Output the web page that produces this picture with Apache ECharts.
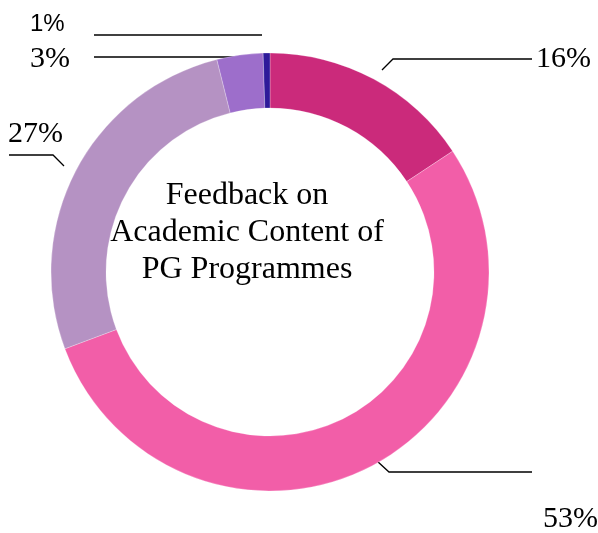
<!DOCTYPE html>
<html>
<head>
<meta charset="utf-8">
<script src="https://cdn.jsdelivr.net/npm/echarts@6/dist/echarts.min.js"></script>
<style>html,body{margin:0;padding:0;background:#fff;}#c{width:598px;height:533px;}</style>
</head>
<body>
<div id="c"></div>
<script>
// Data (clockwise from 12 o'clock)
var categories = ['A', 'B', 'C', 'D', 'E'];
var values = [15.7, 53.6, 26.8, 3.4, 0.5];
var labelTexts = ['16%', '53%', '27%', '3%', '1%'];
var colors = ['#CB2A7B', '#F25EA8', '#B592C3', '#9D6ECB', '#2E1A9A'];
var titleText = 'Feedback on\nAcademic Content of\nPG Programmes';

// Label placement (layout only)
var labelLayouts = [
  {x: 536, y: 59, align: 'left', pts: [[382, 70], [393, 59], [532, 59]], font: 'serif'},
  {x: 543, y: 519, align: 'left', pts: [[377, 461], [389, 472], [532, 472]], font: 'serif'},
  {x: 8, y: 134, align: 'left', pts: [[64, 166], [53, 155], [9, 155]], font: 'serif'},
  {x: 30, y: 59, align: 'left', pts: [[243, 66], [243, 57], [94, 57]], font: 'serif'},
  {x: 30, y: 24, align: 'left', pts: [[262, 35], [262, 35], [94, 35]], font: 'sans'}
];

var data = categories.map(function (c, i) {
  var lay = labelLayouts[i];
  return {
    name: c,
    value: values[i],
    itemStyle: {color: colors[i]},
    label: lay.font === 'sans'
      ? {fontFamily: '"Liberation Sans", Arial, sans-serif', fontSize: 24}
      : {fontFamily: '"Liberation Serif", "Times New Roman", serif', fontSize: 30}
  };
});

var chart = echarts.init(document.getElementById('c'), null, {renderer: 'canvas'});
chart.setOption({
  animation: false,
  backgroundColor: '#ffffff',
  title: {
    text: titleText,
    left: 247,
    top: 177,
    padding: 0,
    textAlign: 'center',
    textStyle: {
      fontFamily: '"Liberation Serif", "Times New Roman", serif',
      fontSize: 32,
      fontWeight: 'normal',
      lineHeight: 37,
      color: '#000'
    }
  },
  series: [{
    type: 'pie',
    center: [270, 272],
    radius: [164, 219],
    startAngle: 90,
    clockwise: true,
    avoidLabelOverlap: false,
    silent: true,
    itemStyle: {borderColor: 'rgba(255,255,255,0.5)', borderWidth: 0.5},
    label: {
      show: true,
      position: 'outside',
      color: '#000',
      formatter: function (p) { return labelTexts[p.dataIndex]; }
    },
    labelLine: {
      show: true,
      length: 10,
      length2: 20,
      lineStyle: {color: '#000', width: 1.3}
    },
    labelLayout: function (p) {
      var l = labelLayouts[p.dataIndex];
      return {x: l.x, y: l.y, align: l.align, verticalAlign: 'middle', labelLinePoints: l.pts};
    },
    data: data
  }]
});
</script>
</body>
</html>
